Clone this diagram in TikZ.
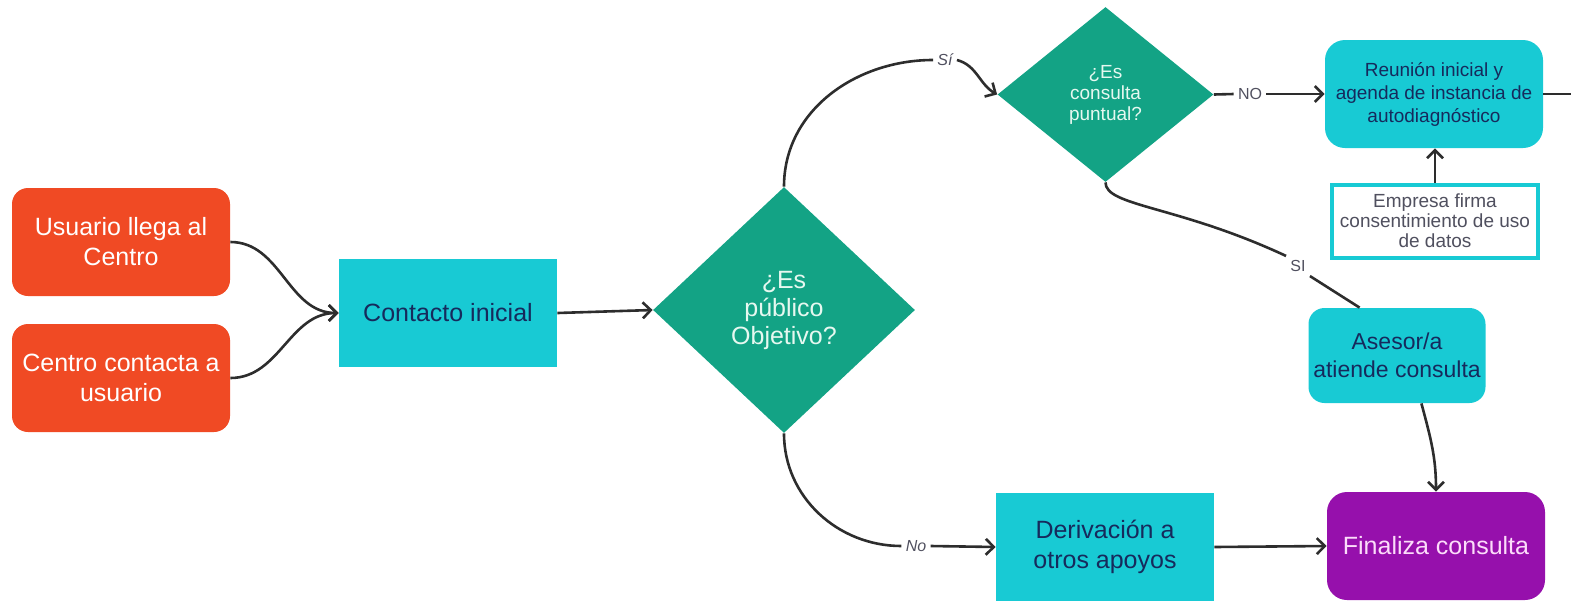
\documentclass[tikz,border=0pt]{standalone}
\usepackage{fontspec}
\setmainfont{Liberation Sans}
\usepackage{xcolor}
\usetikzlibrary{shapes.geometric, arrows.meta}

\definecolor{rojo}{RGB}{240,74,36}
\definecolor{celeste}{RGB}{24,202,212}
\definecolor{verde}{RGB}{19,163,133}
\definecolor{morado}{RGB}{150,16,172}
\definecolor{azultxt}{RGB}{22,42,92}
\definecolor{claro}{RGB}{230,248,240}
\definecolor{rosado}{RGB}{252,220,250}
\definecolor{trazo}{RGB}{45,45,45}
\definecolor{gris}{RGB}{80,80,95}

\begin{document}
\begin{tikzpicture}[x=0.5pt, y=0.5pt,
    caja/.style={minimum width=109pt, minimum height=54pt, align=center, inner sep=1pt, font=\fontsize{12.5}{15}\selectfont},
    inicio/.style={caja, fill=rojo, text=white, rounded corners=8pt},
    paso/.style={caja, fill=celeste, text=azultxt},
    decision/.style={diamond, fill=verde, text=claro, align=center, inner sep=0pt},
    etiq/.style={font=\fontsize{8}{9}\selectfont, text=gris, inner sep=2pt},
    linea/.style={line width=1.3pt, draw=trazo},
    flecha/.style={linea, -{Straight Barb[length=4pt,width=8pt]}}]
    \useasboundingbox (0,0) rectangle (1571,-601);

    \node[inicio] (usuario) at (121,-242) {Usuario llega al\\Centro};
    \node[inicio] (centro) at (121,-378) {Centro contacta a\\usuario};
    \node[paso] (contacto) at (448,-313) {Contacto inicial};
    \node[decision, minimum width=131pt, minimum height=123pt, font=\fontsize{12.5}{14}\selectfont] (publico) at (784,-310) {¿Es\\público\\Objetivo?};
    \node[decision, minimum width=108pt, minimum height=87.5pt, font=\fontsize{9.5}{10.5}\selectfont] (puntual) at (1105.5,-94.5) {¿Es\\consulta\\puntual?};
    \node[paso, rounded corners=10pt, font=\fontsize{9.5}{11.5}\selectfont] (reunion) at (1434,-94) {Reunión inicial y\\agenda de instancia de\\autodiagnóstico};
    \node[draw=celeste, line width=2pt, fill=white, text=gris, align=center, inner sep=1pt, minimum width=103pt, minimum height=36.5pt, font=\fontsize{9.5}{10}\selectfont] (empresa) at (1435,-221) {Empresa firma\\consentimiento de uso\\de datos};
    \node[paso, rounded corners=8pt, minimum width=88.5pt, minimum height=47.5pt, font=\fontsize{11.5}{14}\selectfont] (asesor) at (1397,-355.5) {Asesor/a\\atiende consulta};
    \node[paso] (derivacion) at (1105,-547) {Derivación a\\otros apoyos};
    \node[caja, fill=morado, text=rosado, rounded corners=10pt] (finaliza) at (1436,-546) {Finaliza consulta};

    \node[etiq, font=\fontsize{8}{9}\selectfont\itshape] (si) at (945,-60) {Sí};
    \node[etiq, font=\fontsize{8}{9}\selectfont\itshape] (no) at (916,-546) {No};
    \node[etiq] (nomay) at (1250,-94) {NO};
    \node[etiq] (simay) at (1298,-266) {SI};
    \coordinate (salida) at (1571,-94);

    \draw[flecha] (usuario.east) to[out=0,in=180] (contacto.west);
    \draw[flecha] (centro.east) to[out=0,in=180] (contacto.west);
    \draw[flecha] (contacto.east) -- (publico.west);
    \draw[linea] (publico.north) to[out=90,in=180] (si.west);
    \draw[flecha] (si.east) to[out=-15,in=150] (puntual.west);
    \draw[linea] (publico.south) to[out=-90,in=180] (no.west);
    \draw[flecha] (no.east) -- (derivacion.west);
    \draw[linea] (puntual.east) -- (nomay.west);
    \draw[flecha] (nomay.east) -- (reunion.west);
    \draw[linea] (reunion.east) -- (salida);
    \draw[flecha] (empresa.north) -- (empresa.north |- reunion.south);
    \draw[linea] (puntual.south) to[out=-90,in=155,out distance=12pt,in distance=60pt] (simay.north west);
    \draw[linea] (simay.south east) -- (asesor.128);
    \draw[flecha] (asesor.-63) to[out=-75,in=90] (finaliza.north);
    \draw[flecha] (derivacion.east) -- (finaliza.west);
\end{tikzpicture}
\end{document}
